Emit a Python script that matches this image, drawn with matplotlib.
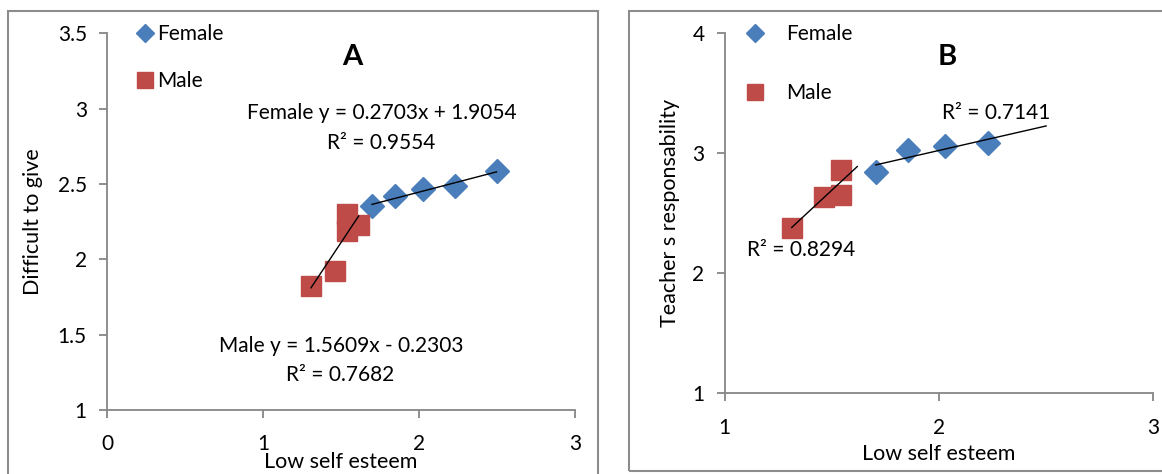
import matplotlib
matplotlib.use("Agg")
import matplotlib.pyplot as plt
import numpy as np
from matplotlib.patches import Rectangle

plt.rcParams['font.family'] = ['Lato', 'DejaVu Sans']

# ---- Data: panel A (Difficult to give) ----
a_female_x = [1.699, 1.844, 2.023, 2.228, 2.497]
a_female_y = [2.353, 2.419, 2.470, 2.487, 2.587]
a_male_x = [1.308, 1.464, 1.538, 1.538, 1.613]
a_male_y = [1.824, 1.920, 2.304, 2.189, 2.227]
a_female_fit = [0.2703, 1.9054]
a_male_fit = [1.5609, -0.2303]

# ---- Data: panel B (Teacher's responsability) ----
b_female_x = [1.705, 1.857, 2.028, 2.231]
b_female_y = [2.847, 3.030, 3.061, 3.083]
b_male_x = [1.313, 1.464, 1.541, 1.541]
b_male_y = [2.380, 2.639, 2.655, 2.861]
b_female_trend_end = 2.501
b_male_trend_end = 1.619

a_xticks = [0, 1, 2, 3]
a_yticks = [1, 1.5, 2, 2.5, 3, 3.5]
b_xticks = [1, 2, 3]
b_yticks = [1, 2, 3, 4]

BLUE = '#4A7EBB'
RED = '#BE4B48'
AXC = '#868686'
W, H = 1162, 474
FS = 15

fig = plt.figure(figsize=(W / 100, H / 100), dpi=100)

def px_rect(x0, x1, ytop, ybot):
    return [x0 / W, 1 - ybot / H, (x1 - x0) / W, (ybot - ytop) / H]

axA = fig.add_axes(px_rect(107, 575, 33.3, 410))
axB = fig.add_axes(px_rect(724.7, 1153, 33.3, 393.3))

# panel borders
fig.add_artist(Rectangle((8.4 / W, -0.2), (597.5 - 8.4) / W, 1.2 - 10.7 / H,
                         transform=fig.transFigure, fill=False, ec='#8C8C8C', lw=1.5))
fig.add_artist(Rectangle((629 / W, 1 - 470.7 / H), 0.6, (470.7 - 10.7) / H,
                         transform=fig.transFigure, fill=False, ec='#8C8C8C', lw=1.5))

def style(ax, xlim, ylim, xt, yt, ylab, xlab_y, ylab_x):
    ax.set_xlim(*xlim)
    ax.set_ylim(*ylim)
    ax.set_xticks(xt)
    ax.set_yticks(yt)
    ax.set_xticklabels([f'{v:g}' for v in xt])
    ax.set_yticklabels([f'{v:g}' for v in yt])
    for s in ['top', 'right']:
        ax.spines[s].set_visible(False)
    for s in ['left', 'bottom']:
        ax.spines[s].set_color(AXC)
        ax.spines[s].set_linewidth(1.3)
    ax.tick_params(axis='both', colors=AXC, labelcolor='black', labelsize=FS,
                   length=5.5, width=1.3, direction='out')
    ax.tick_params(axis='y', pad=9)
    ax.tick_params(axis='x', pad=12)
    ax.set_xlabel('Low self esteem', fontsize=FS + 0.5)
    ax.xaxis.set_label_coords(0.5, xlab_y)
    ax.set_ylabel(ylab, fontsize=FS + 0.5)
    ax.yaxis.label.set_va('center')
    ax.yaxis.set_label_coords(ylab_x, 0.5)
    ax.patch.set_alpha(0)

style(axA, (0, 3), (1, 3.5), a_xticks, a_yticks, 'Difficult to give', -0.112, -0.158)
style(axB, (1, 3), (1, 4), b_xticks, b_yticks, 'Teacher s responsability', -0.140, -0.128)

def axpos_A(px, py):
    return ((px - 107) / 468, (410 - py) / 376.7)

def axpos_B(px, py):
    return ((px - 724.7) / 428.3, (393.3 - py) / 360)

# Panel A
axA.plot(a_female_x, a_female_y, ls='none', marker='D', ms=12, color=BLUE,
         label='Female', clip_on=False, zorder=3)
axA.plot(a_male_x, a_male_y, ls='none', marker='s', ms=15, color=RED,
         label='Male', clip_on=False, zorder=3)
fx = np.array([min(a_female_x), max(a_female_x)])
axA.plot(fx, np.polyval(a_female_fit, fx), color='black', lw=1.0, zorder=4)
mx = np.array([min(a_male_x), max(a_male_x)])
axA.plot(mx, np.polyval(a_male_fit, mx), color='black', lw=1.0, zorder=4)

axA.text(*axpos_A(352, 57), 'A', transform=axA.transAxes, fontsize=21, fontweight='bold',
         ha='center', va='center')
axA.text(*axpos_A(381.6, 113), 'Female y = 0.2703x + 1.9054', fontsize=FS,
         ha='center', va='center', transform=axA.transAxes)
axA.text(*axpos_A(381.6, 143), 'R² = 0.9554', fontsize=FS,
         ha='center', va='center', transform=axA.transAxes)
axA.text(*axpos_A(340.8, 346), 'Male y = 1.5609x - 0.2303', fontsize=FS,
         ha='center', va='center', transform=axA.transAxes)
axA.text(*axpos_A(340.6, 375), 'R² = 0.7682', fontsize=FS,
         ha='center', va='center', transform=axA.transAxes)

axA.legend(loc='upper left', bbox_to_anchor=(0.0656, 1.024), frameon=False,
           fontsize=FS, handlelength=0.7, handletextpad=0.23, labelspacing=1.28,
           borderpad=0, borderaxespad=0, markerscale=0.75)

# Panel B
axB.plot(b_female_x, b_female_y, ls='none', marker='D', ms=12, color=BLUE,
         label='Female', clip_on=False, zorder=3)
axB.plot(b_male_x, b_male_y, ls='none', marker='s', ms=15, color=RED,
         label='Male', clip_on=False, zorder=3)
cf = np.polyfit(b_female_x, b_female_y, 1)
fx = np.array([min(b_female_x), b_female_trend_end])
axB.plot(fx, np.polyval(cf, fx), color='black', lw=1.0, zorder=4)
cm = np.polyfit(b_male_x, b_male_y, 1)
mx = np.array([min(b_male_x), b_male_trend_end])
axB.plot(mx, np.polyval(cm, mx), color='black', lw=1.0, zorder=4)

axB.text(*axpos_B(947, 57), 'B', transform=axB.transAxes, fontsize=21, fontweight='bold',
         ha='center', va='center')
axB.text(*axpos_B(996, 113), 'R² = 0.7141', fontsize=FS,
         ha='center', va='center', transform=axB.transAxes)
axB.text(*axpos_B(800.7, 250), 'R² = 0.8294', fontsize=FS,
         ha='center', va='center', transform=axB.transAxes)

axB.legend(loc='upper left', bbox_to_anchor=(0.0537, 1.025), frameon=False,
           fontsize=FS, handlelength=0.7, handletextpad=1.14, labelspacing=1.86,
           borderpad=0, borderaxespad=0, markerscale=0.75)

fig.savefig('out.png', dpi=100)
